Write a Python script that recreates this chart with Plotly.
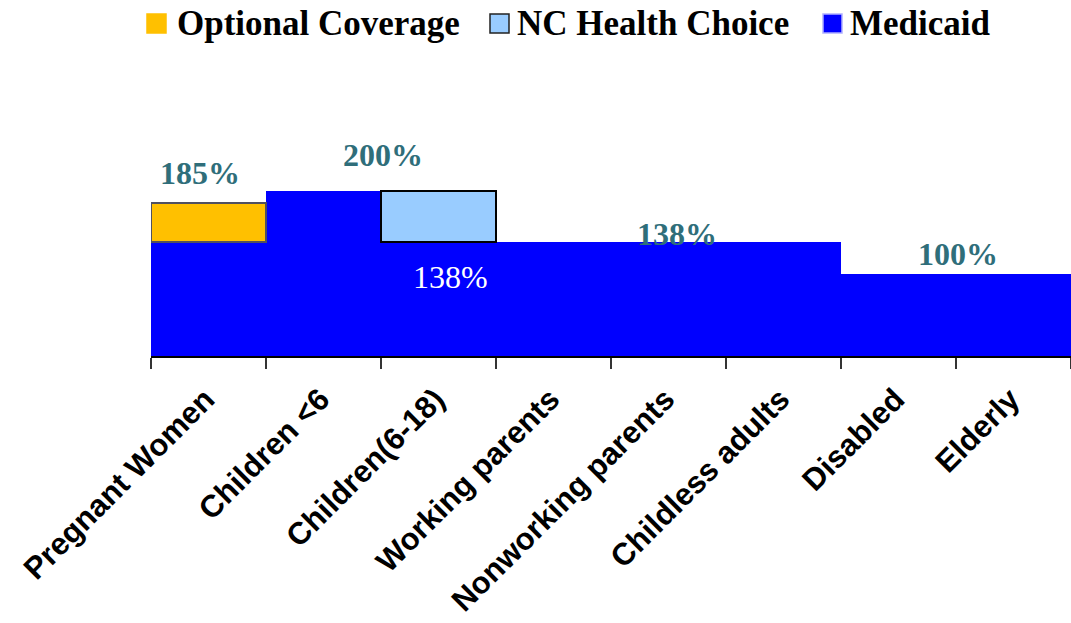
import plotly.graph_objects as go

categories = ["Pregnant Women", "Children <6", "Children(6-18)", "Working parents",
              "Nonworking parents", "Childless adults", "Disabled", "Elderly"]
medicaid = [138, 200, 138, 138, 138, 138, 100, 100]
optional_coverage = [47, None, None, None, None, None, None, None]
nc_health_choice = [None, None, 62, None, None, None, None, None]

series_names = ["Optional Coverage", "NC Health Choice", "Medicaid"]
series_colors = ["#FFC000", "#99CCFF", "#0000FF"]

# label texts: (x position on category axis, y value, text)
top_labels = [(-0.07, 222, "185%"), (1.52, 244, "200%"), (4.07, 148, "138%"), (6.52, 124, "100%")]
inner_label = (2.1, 96, "138%")

serif = "Liberation Serif, Times New Roman, serif"
sans = "Liberation Sans, Arial, sans-serif"
teal = "#2F6E7A"

L, T, W, H = 151, 59, 920, 297  # plot area in px


def px_x(px):
    return (px - L) / W


def px_y(py):
    return (T + H - py) / H


fig = go.Figure()
fig.add_trace(go.Bar(x=categories, y=medicaid, name="Medicaid",
                     marker=dict(color=series_colors[2], line=dict(width=0))))
fig.add_trace(go.Bar(x=categories, y=optional_coverage, name="Optional Coverage",
                     marker=dict(color=series_colors[0], line=dict(color="#505060", width=2))))
fig.add_trace(go.Bar(x=categories, y=nc_health_choice, name="NC Health Choice",
                     marker=dict(color=series_colors[1], line=dict(color="#000000", width=2.5))))

for x, y, t in top_labels:
    fig.add_annotation(x=x, y=y, text=t, showarrow=False, xref="x", yref="y",
                       font=dict(family=serif, size=32, color=teal, weight="bold"))
fig.add_annotation(x=inner_label[0], y=inner_label[1], text=inner_label[2], showarrow=False,
                   font=dict(family=serif, size=32, color="white"))

# manual legend
legend_sq = [147, 490, 823]
legend_txt = [175, 515, 848]
sq_borders = ["#FFC000", "#222222", "#B0B0FF"]
for i, name in enumerate(series_names):
    fig.add_shape(type="rect", xref="paper", yref="paper",
                  x0=px_x(legend_sq[i]), x1=px_x(legend_sq[i] + 19),
                  y0=px_y(33), y1=px_y(14),
                  fillcolor=series_colors[i], line=dict(color=sq_borders[i], width=1.5))
    fig.add_annotation(xref="paper", yref="paper", x=px_x(legend_txt[i]), y=px_y(23),
                       xanchor="left", yanchor="middle", showarrow=False, text=name,
                       font=dict(family=serif, size=35, color="black", weight="bold"))

fig.update_layout(
    width=1071, height=623,
    margin=dict(l=L, r=0, t=T, b=623 - T - H, autoexpand=False),
    barmode="stack", bargap=0,
    plot_bgcolor="white", paper_bgcolor="white",
    showlegend=False,
    xaxis=dict(tickangle=-45, tickson="boundaries", ticks="outside", ticklen=11,
               tickcolor="#333", tickwidth=1.5, showline=True, linecolor="black", linewidth=1.5,
               tickfont=dict(family=sans, size=31, color="black", weight="bold"),
               ticklabelshift=-3, ticklabelstandoff=11,
               showgrid=False, automargin=False),
    yaxis=dict(range=[0, 360], visible=False, showgrid=False, automargin=False),
)

fig.write_html("out.html", config={"displayModeBar": False},
               post_script="document.body.style.margin='0';document.body.style.overflow='hidden';")
